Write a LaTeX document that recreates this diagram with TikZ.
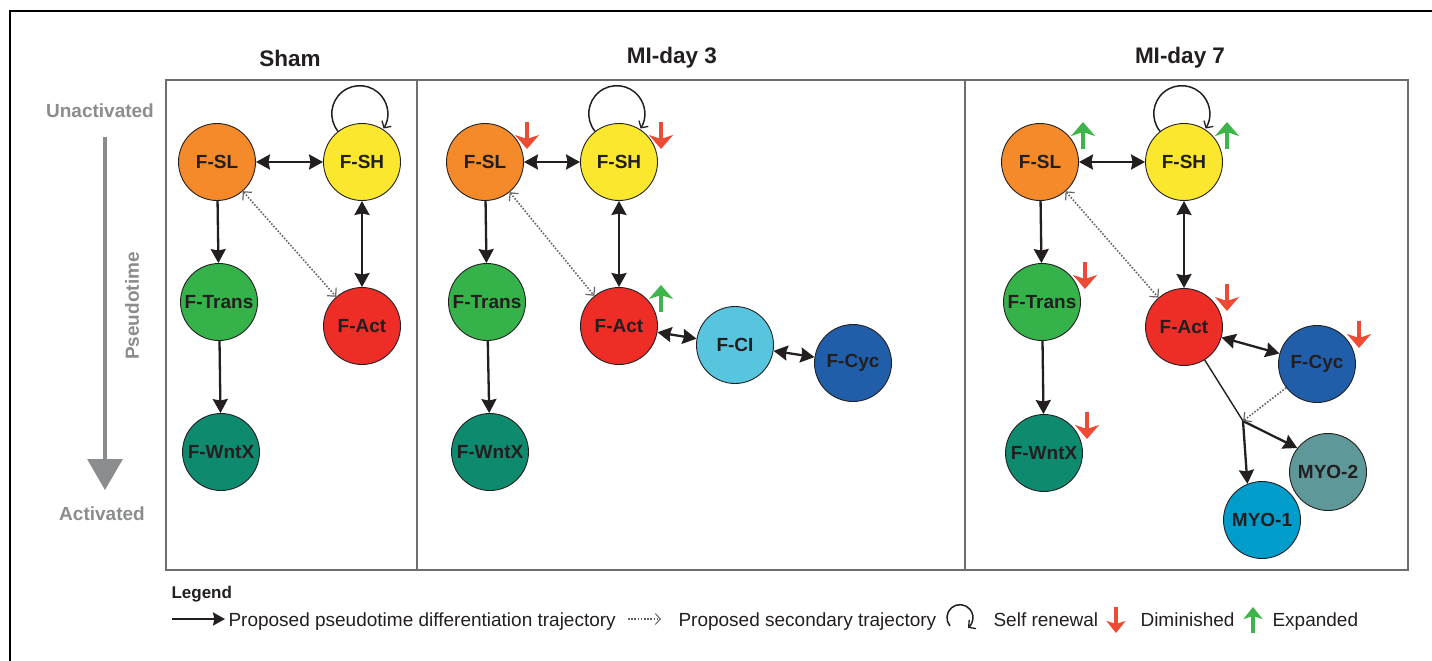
\documentclass[tikz,border=0pt]{standalone}
\usepackage{fontspec}
\setmainfont{Liberation Sans}
\usepackage{tikz}
\usetikzlibrary{arrows.meta}

\definecolor{ink}{HTML}{231F20}
\definecolor{greyax}{HTML}{8A8C8E}
\definecolor{greybox}{HTML}{6D6E71}
\definecolor{colSL}{HTML}{F48A29}
\definecolor{colSH}{HTML}{FBE82E}
\definecolor{colTR}{HTML}{35B34A}
\definecolor{colWX}{HTML}{0E8A6F}
\definecolor{colAC}{HTML}{EE2D27}
\definecolor{colCI}{HTML}{57C5DD}
\definecolor{colCY}{HTML}{215EA9}
\definecolor{colMA}{HTML}{009CCA}
\definecolor{colMB}{HTML}{5F9898}
\definecolor{colDown}{HTML}{EF4A33}
\definecolor{colUp}{HTML}{3DB54A}

\tikzset{
	cell/.style={circle, draw=ink, line width=0.9pt, minimum size=77pt, inner sep=0pt,
		text=ink, font=\fontsize{19}{19}\selectfont\bfseries},
	title/.style={text=ink, font=\fontsize{22.5}{26}\selectfont\bfseries},
	axis/.style={text=greyax, font=\fontsize{19}{22}\selectfont\bfseries},
	panel/.style={draw=greybox, line width=1.4pt},
	traj/.style={draw=ink, line width=2.3pt, -{Stealth[length=14pt,width=15pt,inset=1.5pt]}},
	twoway/.style={traj, {Stealth[length=14pt,width=15pt,inset=1.5pt]}-{Stealth[length=14pt,width=15pt,inset=1.5pt]}},
	second/.style={draw=black!60, line width=1.6pt, dash pattern=on 1.6pt off 1.6pt,
		{Straight Barb[length=6pt,width=12pt,line width=1.2pt]}-{Straight Barb[length=6pt,width=12pt,line width=1.2pt]}},
	renew/.style={draw=ink, line width=1.5pt, -{Straight Barb[length=5pt,width=11pt,line width=1.3pt]}},
	dimin/.style={draw=colDown, line width=4.6pt, -{Stealth[length=14pt,width=24pt,inset=4pt]}},
	expand/.style={draw=colUp, line width=4.6pt, -{Stealth[length=14pt,width=24pt,inset=4pt]}},
	legtext/.style={text=ink, font=\fontsize{19}{22}\selectfont, anchor=base west}
}

\begin{document}
\begin{tikzpicture}[x=1pt,y=-1pt]
	\useasboundingbox (0,0) rectangle (1432,661);
	\draw[line width=1.5pt] (10,661) -- (10,11) -- (1432,11);
	\draw[panel] (166,80) rectangle (1408,570);
	\draw[panel] (417,80) -- (417,570) (965,80) -- (965,570);
	\node[title] (tA) at (290,58) {Sham};
	\node[title] (tB) at (672,58) {MI-day 3};
	\node[title] (tC) at (1180,58) {MI-day 7};

	% pseudotime axis
	\node[axis] (top) at (100,111) {Unactivated};
	\node[axis] (bot) at (102,514) {Activated};
	\node[axis, rotate=90] (pt) at (132,306) {Pseudotime};
	\draw[draw=greyax, line width=3.3pt, -{Triangle[length=31pt,width=35pt]}] (105,137) -- (105,490);

	% Sham
	\node[cell, fill=colSL] (aSL) at (217,162) {F-SL};
	\node[cell, fill=colSH] (aSH) at (362,162) {F-SH};
	\node[cell, fill=colTR] (aTR) at (219,302) {F-Trans};
	\node[cell, fill=colWX] (aWX) at (221,452) {F-WntX};
	\node[cell, fill=colAC] (aAC) at (362,326) {F-Act};
	\draw[twoway] (aSL) -- (aSH);
	\draw[traj] (aSL) -- (aTR);
	\draw[traj] (aTR) -- (aWX);
	\draw[twoway] (aSH) -- (aAC);
	\draw[second] (aSL) -- (aAC);
	\draw[renew] (aSH.128) arc[start angle=141, end angle=392, radius=28];

	% MI-day 3
	\node[cell, fill=colSL] (bSL) at (485,162) {F-SL};
	\node[cell, fill=colSH] (bSH) at (619,162) {F-SH};
	\node[cell, fill=colTR] (bTR) at (487,302) {F-Trans};
	\node[cell, fill=colWX] (bWX) at (490,452) {F-WntX};
	\node[cell, fill=colAC] (bAC) at (619,326) {F-Act};
	\node[cell, fill=colCI] (bCI) at (735,345) {F-CI};
	\node[cell, fill=colCY] (bCY) at (853,363) {F-Cyc};
	\draw[twoway] (bSL) -- (bSH);
	\draw[traj] (bSL) -- (bTR);
	\draw[traj] (bTR) -- (bWX);
	\draw[twoway] (bSH) -- (bAC);
	\draw[second] (bSL) -- (bAC);
	\draw[twoway] (bAC) -- (bCI);
	\draw[twoway] (bCI) -- (bCY);
	\draw[renew] (bSH.128) arc[start angle=141, end angle=392, radius=28];
	\draw[dimin] ([shift={(42,-40)}]bSL.center) -- ++(0,27);
	\draw[dimin] ([shift={(42,-40)}]bSH.center) -- ++(0,27);
	\draw[expand] ([shift={(42,-14)}]bAC.center) -- ++(0,-27);

	% MI-day 7
	\node[cell, fill=colSL] (cSL) at (1040,162) {F-SL};
	\node[cell, fill=colSH] (cSH) at (1184,162) {F-SH};
	\node[cell, fill=colTR] (cTR) at (1042,302) {F-Trans};
	\node[cell, fill=colWX] (cWX) at (1044,453) {F-WntX};
	\node[cell, fill=colAC] (cAC) at (1184,327) {F-Act};
	\node[cell, fill=colCY] (cCY) at (1317,364) {F-Cyc};
	\node[cell, fill=colMA] (cMA) at (1262,520) {MYO-1};
	\node[cell, fill=colMB] (cMB) at (1328,472) {MYO-2};
	\coordinate (cBR) at (1243,421);
	\draw[twoway] (cSL) -- (cSH);
	\draw[traj] (cSL) -- (cTR);
	\draw[traj] (cTR) -- (cWX);
	\draw[twoway] (cSH) -- (cAC);
	\draw[second] (cSL) -- (cAC);
	\draw[twoway] (cAC) -- (cCY);
	\draw[draw=ink, line width=1.4pt] (cAC) -- (cBR);
	\draw[traj] (cBR) -- (cMA.112);
	\draw[traj] (cBR) -- (cMB.142);
	\draw[second, -{Straight Barb[length=6pt,width=12pt,line width=1.2pt]}] (cCY) -- (cBR);
	\draw[renew] (cSH.128) arc[start angle=141, end angle=392, radius=28];
	\draw[expand] ([shift={(43,-13)}]cSL.center) -- ++(0,-27);
	\draw[expand] ([shift={(43,-13)}]cSH.center) -- ++(0,-27);
	\draw[dimin] ([shift={(43,-40)}]cTR.center) -- ++(0,27);
	\draw[dimin] ([shift={(43,-43)}]cAC.center) -- ++(0,27);
	\draw[dimin] ([shift={(42,-43)}]cCY.center) -- ++(0,27);
	\draw[dimin] ([shift={(43,-41)}]cWX.center) -- ++(0,27);

	% legend
	\node[title, font=\fontsize{17}{20}\selectfont\bfseries, anchor=base west] (lgT) at (168,598) {Legend};
	\node[legtext] (lg1) at (225,626) {Proposed pseudotime differentiation trajectory};
	\node[legtext] (lg2) at (675,626) {Proposed secondary trajectory};
	\node[legtext] (lg3) at (990,626) {Self renewal};
	\node[legtext] (lg4) at (1137,626) {Diminished};
	\node[legtext] (lg5) at (1269,626) {Expanded};
	\draw[traj, -{Stealth[length=12pt,width=13pt,inset=1.5pt]}] ([shift={(-53,-7)}]lg1.base west) -- ([yshift=7pt]lg1.base west);
	\draw[second, -{Straight Barb[length=5pt,width=11pt,line width=1pt]}] ([shift={(-47,-7)}]lg2.base west) -- ([shift={(-14,-7)}]lg2.base west);
	\draw[renew] ([shift={(-40,0)}]lg3.base west) arc[start angle=140, end angle=412, radius=13];
	\draw[dimin, line width=3.4pt, -{Stealth[length=12pt,width=19pt,inset=3pt]}] ([shift={(-21,-19)}]lg4.base west) -- ++(0,26);
	\draw[expand, line width=3.4pt, -{Stealth[length=12pt,width=19pt,inset=3pt]}] ([shift={(-16,7)}]lg5.base west) -- ++(0,-26);
\end{tikzpicture}
\end{document}
